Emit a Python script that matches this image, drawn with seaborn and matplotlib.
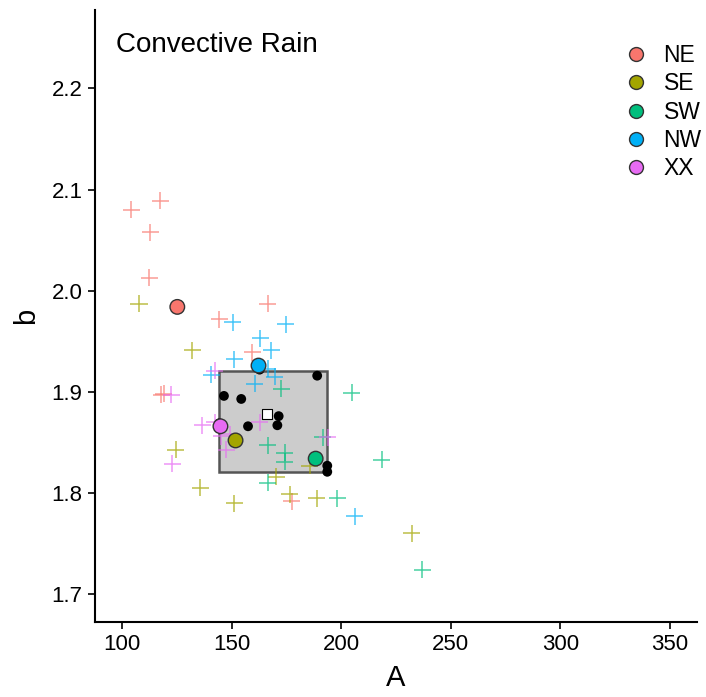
import matplotlib
matplotlib.use("Agg")
import matplotlib.pyplot as plt
import seaborn as sns
import pandas as pd
from matplotlib.patches import Rectangle
from matplotlib.lines import Line2D

sns.set_style("ticks")
plt.rcParams['font.family'] = ['Liberation Sans', 'DejaVu Sans']
plt.rcParams['text.color'] = 'black'
plt.rcParams['axes.labelcolor'] = 'black'
plt.rcParams['xtick.color'] = 'black'
plt.rcParams['ytick.color'] = 'black'

regions = ["NE", "SE", "SW", "NW", "XX"]
palette = ["#F8766D", "#A3A500", "#00BF7D", "#00B0F6", "#E76BF3"]

# individual (cross) points per region
ne_A = [117.4, 104.1, 112.8, 112.2, 144.2, 166.5, 159.4, 117.8, 118.9, 177.4]
ne_b = [2.089, 2.080, 2.058, 2.013, 1.972, 1.987, 1.939, 1.897, 1.898, 1.792]
se_A = [107.6, 132.0, 124.3, 135.6, 185.5, 170.3, 176.4, 151.0, 188.9, 232.2]
se_b = [1.987, 1.941, 1.843, 1.805, 1.827, 1.816, 1.799, 1.790, 1.795, 1.760]
sw_A = [172.6, 204.8, 166.5, 174.1, 174.1, 191.6, 166.5, 198.2, 218.5, 237.0]
sw_b = [1.903, 1.899, 1.847, 1.840, 1.831, 1.855, 1.810, 1.795, 1.833, 1.724]
nw_A = [140.6, 150.5, 174.6, 163.0, 168.0, 151.0, 166.5, 169.5, 160.4, 206.1]
nw_b = [1.917, 1.969, 1.967, 1.953, 1.941, 1.932, 1.923, 1.915, 1.908, 1.777]
xx_A = [142.1, 122.4, 136.5, 142.1, 122.8, 162.7, 149.0, 145.2, 147.5, 193.9]
xx_b = [1.921, 1.897, 1.867, 1.870, 1.829, 1.870, 1.858, 1.856, 1.843, 1.855]

# region summary (circle) points
reg_A = [125.1, 151.7, 188.3, 162.2, 144.8]
reg_b = [1.984, 1.852, 1.834, 1.926, 1.866]

# black points
blk_A = [162.7, 189.0, 146.4, 154.3, 171.4, 170.8, 157.4, 193.6, 193.6, 144.3]
blk_b = [1.922, 1.916, 1.896, 1.893, 1.876, 1.867, 1.866, 1.827, 1.821, 1.869]

# box range and centre
box_A = [144.1, 193.6]
box_b = [1.821, 1.921]
ctr_A = [166.2]
ctr_b = [1.878]

title = "Convective Rain"

cross_df = pd.DataFrame({
    "A": ne_A + se_A + sw_A + nw_A + xx_A,
    "b": ne_b + se_b + sw_b + nw_b + xx_b,
    "region": sum([[r] * 10 for r in regions], []),
})
reg_df = pd.DataFrame({"A": reg_A, "b": reg_b, "region": regions})

fig = plt.figure(figsize=(7.06, 6.97), dpi=100)
ax = fig.add_axes([95 / 706, 1 - 622 / 697, (697 - 95) / 706, (622 - 10) / 697])

ax.add_patch(Rectangle((box_A[0], box_b[0]), box_A[1] - box_A[0], box_b[1] - box_b[0],
                       facecolor="#CCCCCC", edgecolor="#555555", linewidth=1.8, zorder=1))

sns.scatterplot(data=cross_df, x="A", y="b", hue="region", hue_order=regions,
                palette=palette, marker="+", s=150, linewidth=1.1, alpha=0.72,
                legend=False, ax=ax, zorder=2)
sns.scatterplot(x=blk_A, y=blk_b, color="black", s=50, edgecolor="none", ax=ax, zorder=3)
sns.scatterplot(x=ctr_A, y=ctr_b, color="white", marker="s", s=60, edgecolor="black",
                linewidth=0.8, ax=ax, zorder=4)
sns.scatterplot(data=reg_df, x="A", y="b", hue="region", hue_order=regions,
                palette=palette, s=110, edgecolor="#333333", linewidth=1.0,
                legend=False, ax=ax, zorder=5)

ax.set_xlim(87.5, 362.5)
ax.set_ylim(1.6725, 2.2775)
ax.set_xticks([100, 150, 200, 250, 300, 350])
ax.set_yticks([1.7, 1.8, 1.9, 2.0, 2.1, 2.2])
ax.set_yticklabels(["1.7", "1.8", "1.9", "2.0", "2.1", "2.2"])
ax.tick_params(axis="both", labelsize=16, length=5, width=1.2, colors="black", pad=4)
ax.set_xlabel("A", fontsize=21, labelpad=6, color="black")
ax.set_ylabel("b", fontsize=21, labelpad=8, color="black")
sns.despine(ax=ax)
for sp in ["left", "bottom"]:
    ax.spines[sp].set_linewidth(1.5)
    ax.spines[sp].set_color("black")

ax.text(116 / 706, 1 - 45 / 697, title, transform=fig.transFigure, fontsize=20,
        va="center", ha="left", color="black")

handles = [Line2D([0], [0], marker="o", linestyle="none", markersize=10,
                  markerfacecolor=c, markeredgecolor="#333333", markeredgewidth=1.0)
           for c in palette]
ax.legend(handles, regions, loc="upper left", bbox_to_anchor=(604 / 706, 1 - 35 / 697),
          bbox_transform=fig.transFigure, frameon=False, fontsize=16.5,
          labelspacing=0.23, handletextpad=0.2, borderaxespad=0, labelcolor="black")

fig.savefig("out.png", dpi=100)
